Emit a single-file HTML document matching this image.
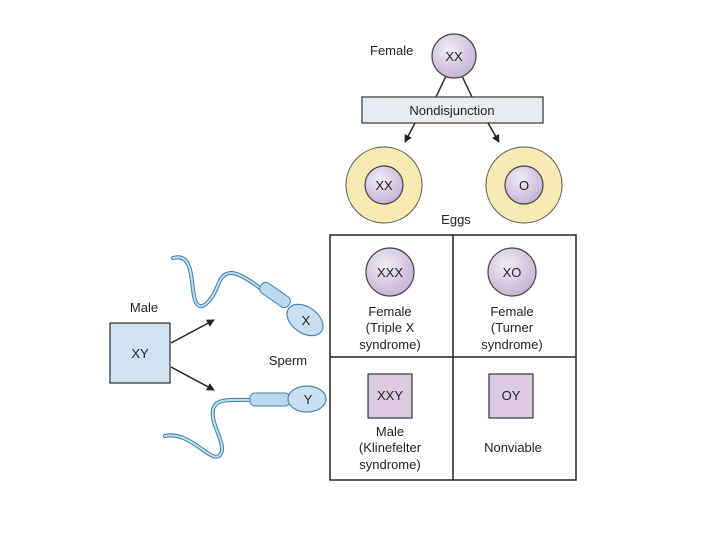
<!DOCTYPE html>
<html><head><style>
body{margin:0;background:#fff;}
svg text{font-family:"Liberation Sans",Arial,sans-serif;font-size:13px;fill:#222;}
</style></head><body>
<svg width="720" height="540" viewBox="0 0 720 540" xmlns="http://www.w3.org/2000/svg">
<defs>
<radialGradient id="pg" cx="0.4" cy="0.35" r="0.7"><stop offset="0" stop-color="#f2ecf6"/><stop offset="1" stop-color="#c4b0d2"/></radialGradient>
<marker id="ah" markerWidth="8" markerHeight="8" refX="7" refY="4" orient="auto" markerUnits="userSpaceOnUse"><path d="M0,0 L8,4 L0,8 Z" fill="#222"/></marker>
</defs>
<!-- female -->
<text x="370" y="55">Female</text>
<line x1="446" y1="76" x2="436" y2="97" stroke="#333" stroke-width="1.5"/>
<line x1="462" y1="76" x2="472" y2="97" stroke="#333" stroke-width="1.5"/>
<circle cx="454" cy="56" r="22" fill="url(#pg)" stroke="#444" stroke-width="1.2"/>
<text x="454" y="61" text-anchor="middle">XX</text>
<rect x="362" y="97" width="181" height="26" fill="#e6eef4" stroke="#333" stroke-width="1.2"/>
<text x="452" y="115" text-anchor="middle">Nondisjunction</text>
<line x1="415" y1="123" x2="405" y2="142" stroke="#222" stroke-width="1.5" marker-end="url(#ah)"/>
<line x1="488" y1="123" x2="499" y2="142" stroke="#222" stroke-width="1.5" marker-end="url(#ah)"/>
<!-- eggs -->
<circle cx="384" cy="185" r="38" fill="#f7eab2" stroke="#555" stroke-width="1"/>
<circle cx="384" cy="185" r="19" fill="url(#pg)" stroke="#444" stroke-width="1.2"/>
<text x="384" y="190" text-anchor="middle">XX</text>
<circle cx="524" cy="185" r="38" fill="#f7eab2" stroke="#555" stroke-width="1"/>
<circle cx="524" cy="185" r="19" fill="url(#pg)" stroke="#444" stroke-width="1.2"/>
<text x="524" y="190" text-anchor="middle">O</text>
<text x="456" y="224" text-anchor="middle">Eggs</text>
<!-- grid -->
<rect x="330" y="235" width="246" height="245" fill="#fff" stroke="#222" stroke-width="1.5"/>
<line x1="453" y1="235" x2="453" y2="480" stroke="#222" stroke-width="1.5"/>
<line x1="330" y1="357" x2="576" y2="357" stroke="#222" stroke-width="1.5"/>
<circle cx="390" cy="272" r="24" fill="url(#pg)" stroke="#444" stroke-width="1.2"/>
<text x="390" y="277" text-anchor="middle">XXX</text>
<circle cx="512" cy="272" r="24" fill="url(#pg)" stroke="#444" stroke-width="1.2"/>
<text x="512" y="277" text-anchor="middle">XO</text>
<text x="390" y="316" text-anchor="middle">Female</text>
<text x="390" y="332" text-anchor="middle">(Triple X</text>
<text x="390" y="349" text-anchor="middle">syndrome)</text>
<text x="512" y="316" text-anchor="middle">Female</text>
<text x="512" y="332" text-anchor="middle">(Turner</text>
<text x="512" y="349" text-anchor="middle">syndrome)</text>
<rect x="368" y="374" width="44" height="44" fill="#dccbe3" stroke="#333" stroke-width="1.2"/>
<text x="390" y="400" text-anchor="middle">XXY</text>
<rect x="489" y="374" width="44" height="44" fill="#dccbe3" stroke="#333" stroke-width="1.2"/>
<text x="511" y="400" text-anchor="middle">OY</text>
<text x="390" y="436" text-anchor="middle">Male</text>
<text x="390" y="452" text-anchor="middle">(Klinefelter</text>
<text x="390" y="469" text-anchor="middle">syndrome)</text>
<text x="513" y="452" text-anchor="middle">Nonviable</text>
<!-- male -->
<text x="144" y="312" text-anchor="middle">Male</text>
<rect x="110" y="323" width="60" height="60" fill="#cfe3f3" stroke="#333" stroke-width="1.2"/>
<text x="140" y="358" text-anchor="middle">XY</text>
<line x1="171" y1="343" x2="214" y2="320" stroke="#222" stroke-width="1.5" marker-end="url(#ah)"/>
<line x1="171" y1="367" x2="214" y2="390" stroke="#222" stroke-width="1.5" marker-end="url(#ah)"/>
<text x="288" y="365" text-anchor="middle">Sperm</text>
<!-- X sperm -->
<path d="M173,258 C195,252 190,285 195,300 C200,315 212,300 218,285 C225,265 240,272 265,292" fill="none" stroke="#3d7da5" stroke-width="4" stroke-linecap="round"/>
<path d="M173,258 C195,252 190,285 195,300 C200,315 212,300 218,285 C225,265 240,272 265,292" fill="none" stroke="#bfe0f2" stroke-width="2" stroke-linecap="round"/>
<rect x="258" y="289" width="34" height="12" rx="5" transform="rotate(35 275 295)" fill="#b9d9ef" stroke="#4a86ad" stroke-width="1"/>
<ellipse cx="305" cy="320" rx="20" ry="13" transform="rotate(35 305 320)" fill="#c8e0f2" stroke="#4a86ad" stroke-width="1.2"/>
<text x="306" y="325" text-anchor="middle">X</text>
<!-- Y sperm -->
<path d="M252,400 C230,400 215,398 213,410 C210,425 228,445 220,455 C212,465 190,430 165,436" fill="none" stroke="#3d7da5" stroke-width="4" stroke-linecap="round"/>
<path d="M252,400 C230,400 215,398 213,410 C210,425 228,445 220,455 C212,465 190,430 165,436" fill="none" stroke="#bfe0f2" stroke-width="2" stroke-linecap="round"/>
<rect x="250" y="393" width="40" height="13" rx="5" fill="#b9d9ef" stroke="#4a86ad" stroke-width="1"/>
<ellipse cx="307" cy="399" rx="19" ry="13" fill="#c8e0f2" stroke="#4a86ad" stroke-width="1.2"/>
<text x="308" y="404" text-anchor="middle">Y</text>
</svg>
</body></html>
